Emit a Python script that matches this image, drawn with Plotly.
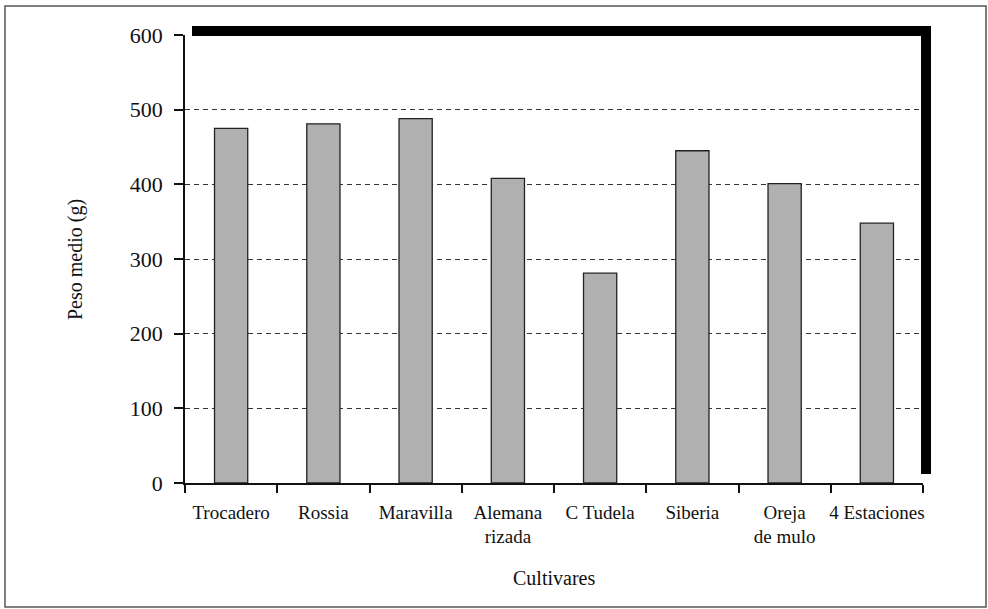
import plotly.graph_objects as go

categories = ["Trocadero", "Rossia", "Maravilla", "Alemana<br>rizada", "C Tudela",
              "Siberia", "Oreja<br>de mulo", "4 Estaciones"]
peso_medio = [475, 481, 488, 408, 281, 445, 401, 348]
y_ticks = [0, 100, 200, 300, 400, 500, 600]

W, H = 988, 609
L, R, T, B = 185, 65, 35, 126
pw, ph = W - L - R, H - T - B

def px_x(p):
    return (p - L) / pw

def px_y(p):
    return (H - B - p) / ph

font_family = "Liberation Serif"

fig = go.Figure()
fig.add_trace(go.Bar(
    x=categories, y=peso_medio, width=0.36,
    marker=dict(color="#b0b0b0", line=dict(color="#222222", width=1.3)),
    showlegend=False,
))

shapes = [
    # drop-shadow frame (top and right)
    dict(type="rect", xref="paper", yref="paper", x0=px_x(192), x1=px_x(931),
         y0=px_y(36), y1=px_y(26), fillcolor="black", line=dict(width=0), layer="above"),
    dict(type="rect", xref="paper", yref="paper", x0=px_x(921), x1=px_x(931),
         y0=px_y(474), y1=px_y(26), fillcolor="black", line=dict(width=0), layer="above"),
    # outer thin frame
    dict(type="rect", xref="paper", yref="paper", x0=px_x(5), x1=px_x(986),
         y0=px_y(607), y1=px_y(6), line=dict(color="#555555", width=1.5),
         fillcolor="rgba(0,0,0,0)", layer="below"),
]

fig.update_layout(
    width=W, height=H,
    margin=dict(l=L, r=R, t=T, b=B, autoexpand=False),
    paper_bgcolor="white", plot_bgcolor="white",
    font=dict(family=font_family, color="#111111"),
    shapes=shapes,
    annotations=[
        dict(text="Peso medio (g)", textangle=-90, xref="paper", yref="paper",
             x=px_x(75), y=px_y(260), showarrow=False, xanchor="center", yanchor="middle",
             font=dict(size=20, family=font_family, color="#111111")),
        dict(text="Cultivares", xref="paper", yref="paper",
             x=px_x(554), y=px_y(578), showarrow=False, xanchor="center", yanchor="middle",
             font=dict(size=20, family=font_family, color="#111111")),
    ],
)

fig.update_xaxes(
    type="category", range=[-0.5, 7.5],
    showline=True, linecolor="#111111", linewidth=1.5,
    ticks="outside", tickson="boundaries", ticklen=8, tickcolor="#111111", tickwidth=1.5,
    tickfont=dict(size=19, family=font_family, color="#111111"),
    tickangle=0, ticklabelstandoff=11,
    showgrid=False,
)
fig.update_yaxes(
    range=[0, 600], tickvals=y_ticks,
    showline=True, linecolor="#111111", linewidth=1.5,
    ticks="outside", ticklen=9, tickcolor="#111111", tickwidth=1.5,
    tickfont=dict(size=22, family=font_family, color="#111111"),
    ticklabelstandoff=7,
    showgrid=True, gridcolor="#333333", gridwidth=1, griddash="5px,4px",
    zeroline=False,
)

fig.write_html("out.html", config={"displayModeBar": False},
               post_script="document.body.style.margin='0';document.body.style.overflow='hidden';")
